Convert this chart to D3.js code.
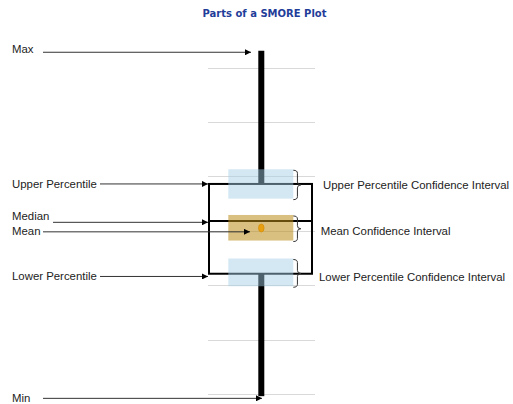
<!DOCTYPE html>
<html>
<head>
  <meta charset="utf8">
  <title>Parts of a SMORE Plot</title>
  <style>
  * { margin: 0; padding: 0; }
  body { background: #fff; }
  .grid { stroke: #d9d9d9; stroke-width: 1px; }
  .lbl { font-family: "Liberation Sans", Arial, sans-serif; font-size: 11.4px; fill: #222; }
  .arrow { stroke: #333; stroke-width: 1px; fill: none; }
  .brace { stroke: #333; stroke-width: 1px; fill: none; }
  </style>
</head>
<body>
<script src="https://cdn.jsdelivr.net/npm/d3@7"></script>
<script>
// y-axis grid values
var gridTicks = [0, 1, 2, 3, 4, 5, 6];

// summary stats of the example plot
var statNames  = ["Min", "Lower Percentile", "Median", "Mean", "Upper Percentile", "Max"];
var statValues = [-0.04, 2.21, 3.18, 3.05, 3.86, 6.31];

// confidence intervals [low, high]
var ciNames  = ["Lower Percentile Confidence Interval", "Mean Confidence Interval", "Upper Percentile Confidence Interval"];
var ciLow    = [1.98, 2.82, 3.59];
var ciHigh   = [2.49, 3.29, 4.13];

// where the left labels sit (value) and where their arrows point (value)
var leftLabels = ["Max", "Upper Percentile", "Median", "Mean", "Lower Percentile", "Min"];
var leftLabelAt = [6.34, 3.86, 3.27, 2.99, 2.16, -0.07];
var leftArrowAt = [6.28, 3.86, 3.155, 2.98, 2.16, -0.08];

var W = 513, H = 404;
var y = d3.scaleLinear().domain([0, 6]).range([394, 67.5]);
var cx = 261.3;

var svg = d3.select("body").append("svg")
  .attr("width", W).attr("height", H)
  .attr("viewBox", "0 0 " + W + " " + H);

var defs = svg.append("defs");
defs.append("marker")
  .attr("id", "head")
  .attr("viewBox", "0 0 10 10")
  .attr("refX", 10).attr("refY", 5)
  .attr("markerWidth", 8).attr("markerHeight", 6)
  .attr("markerUnits", "userSpaceOnUse")
  .attr("orient", "auto")
  .append("path").attr("d", "M0,0L10,5L0,10Z").attr("fill", "#000");

// title
svg.append("text")
  .attr("x", 264.5).attr("y", 17.3)
  .attr("text-anchor", "middle")
  .style("font-family", "Verdana, 'DejaVu Sans', sans-serif")
  .style("font-size", "10px")
  .style("font-weight", "bold")
  .style("fill", "#1f3d99")
  .text("Parts of a SMORE Plot");

// gridlines
svg.selectAll(".grid").data(gridTicks).enter().append("line")
  .attr("class", "grid")
  .attr("x1", 208).attr("x2", 315)
  .attr("y1", function(d) { return Math.round(y(d)) + 0.5; })
  .attr("y2", function(d) { return Math.round(y(d)) + 0.5; });

var v = {};
statNames.forEach(function(n, i) { v[n] = statValues[i]; });

// whiskers: max -> upper, lower -> min
svg.selectAll(".whisker")
  .data([[v["Max"], v["Upper Percentile"]], [v["Lower Percentile"], v["Min"]]])
  .enter().append("line")
  .attr("x1", cx).attr("x2", cx)
  .attr("y1", function(d) { return y(d[0]); })
  .attr("y2", function(d) { return y(d[1]); })
  .attr("stroke", "#000").attr("stroke-width", 6);

// box
var bx0 = 209, bx1 = 312;
svg.append("rect")
  .attr("x", bx0).attr("y", y(v["Upper Percentile"]))
  .attr("width", bx1 - bx0)
  .attr("height", y(v["Lower Percentile"]) - y(v["Upper Percentile"]))
  .attr("fill", "none").attr("stroke", "#000").attr("stroke-width", 2);
svg.append("line")
  .attr("x1", bx0).attr("x2", bx1)
  .attr("y1", y(v["Median"])).attr("y2", y(v["Median"]))
  .attr("stroke", "#000").attr("stroke-width", 2);

// confidence bands
var bandX0 = 228.3, bandX1 = 293.3;
svg.selectAll(".band").data(ciNames).enter().append("rect")
  .attr("x", bandX0).attr("width", bandX1 - bandX0)
  .attr("y", function(d, i) { return y(ciHigh[i]); })
  .attr("height", function(d, i) { return y(ciLow[i]) - y(ciHigh[i]); })
  .attr("fill", function(d) { return d.indexOf("Mean") === 0 ? "#b98a18" : "#a3cfe5"; })
  .attr("fill-opacity", function(d) { return d.indexOf("Mean") === 0 ? 0.55 : 0.47; });

// mean dot
svg.append("ellipse")
  .attr("cx", cx).attr("cy", y(v["Mean"]))
  .attr("rx", 2.8).attr("ry", 4)
  .attr("fill", "#e8a010").attr("stroke", "#d08a00").attr("stroke-width", 0.6);

// curly braces
function brace(x0, y0, y1, w) {
  var xm = x0 + w * 0.55, ym = (y0 + y1) / 2, r = 3;
  return "M" + x0 + "," + y0 +
    "Q" + xm + "," + y0 + " " + xm + "," + (y0 + r) +
    "L" + xm + "," + (ym - r) +
    "Q" + xm + "," + ym + " " + (x0 + w) + "," + ym +
    "Q" + xm + "," + ym + " " + xm + "," + (ym + r) +
    "L" + xm + "," + (y1 - r) +
    "Q" + xm + "," + y1 + " " + x0 + "," + y1;
}
svg.selectAll(".brace").data(ciNames).enter().append("path")
  .attr("class", "brace")
  .attr("d", function(d, i) { return brace(bandX1, y(ciHigh[i]) + 1, y(ciLow[i]) + 1, 7.5); });

// right labels
var rightX = [319, 320.7, 323];
svg.selectAll(".rlbl").data(ciNames).enter().append("text")
  .attr("class", "lbl")
  .attr("x", function(d, i) { return rightX[i]; })
  .attr("y", function(d, i) {
    if (i === 1) return y(v["Mean"]) + 2.5;
    return i === 0 ? y(v["Lower Percentile"]) + 3 : y(v["Upper Percentile"]) + 1;
  })
  .attr("dy", "0.35em")
  .text(function(d) { return d; });

// left labels
svg.selectAll(".llbl").data(leftLabels).enter().append("text")
  .attr("class", "lbl")
  .attr("x", 12)
  .attr("y", function(d, i) { return y(leftLabelAt[i]); })
  .attr("dy", "0.35em")
  .text(function(d) { return d; });

// arrows from labels to the plot parts
var arrowStart = [43, 100, 53, 43, 100, 43];
var arrowEnd = [251, 208, 208, 250, 208, 262];
svg.selectAll(".arrow").data(leftLabels).enter().append("line")
  .attr("class", "arrow")
  .attr("x1", function(d, i) { return arrowStart[i]; })
  .attr("x2", function(d, i) { return arrowEnd[i]; })
  .attr("y1", function(d, i) { return y(leftArrowAt[i]); })
  .attr("y2", function(d, i) { return y(leftArrowAt[i]); })
  .attr("marker-end", "url(#head)");
</script>
</body>
</html>
